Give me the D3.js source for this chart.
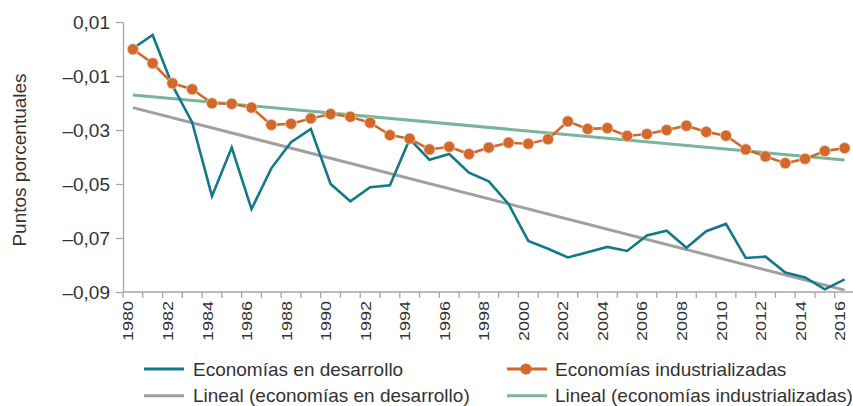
<!DOCTYPE html>
<meta charset="utf-8">
<head>
<script src="https://cdnjs.cloudflare.com/ajax/libs/d3/7.8.5/d3.min.js"></script>
<style>
	body { margin: 0; background: #fff; }
	svg { font-family: "Liberation Sans", Arial, sans-serif; }
	.axis path, .axis line { stroke: #a6a6a6; stroke-width: 1.3px; fill: none; }
	.axis text { fill: #333; }
</style>
</head>
<body>
<div id="chart"></div>
<script>
	var years = d3.range(1980, 2017);

	var developing = [0.0002, 0.0052, -0.0135, -0.0272, -0.0545, -0.0365, -0.0593, -0.0442, -0.0345, -0.0296,
		-0.0500, -0.0564, -0.0512, -0.0505, -0.0334, -0.0410, -0.0389, -0.0458, -0.0490, -0.0574,
		-0.0711, -0.0740, -0.0772, -0.0753, -0.0733, -0.0748, -0.0691, -0.0673, -0.0736, -0.0675,
		-0.0648, -0.0774, -0.0769, -0.0828, -0.0846, -0.0890, -0.0853];

	var industrial = [-0.0001, -0.0053, -0.0127, -0.0149, -0.0201, -0.0203, -0.0217, -0.0281, -0.0277, -0.0257,
		-0.0241, -0.0251, -0.0273, -0.0319, -0.0332, -0.0372, -0.0362, -0.0389, -0.0365, -0.0347,
		-0.0351, -0.0334, -0.0268, -0.0296, -0.0293, -0.0322, -0.0315, -0.0300, -0.0284, -0.0307,
		-0.0321, -0.0372, -0.0398, -0.0423, -0.0407, -0.0378, -0.0367];

	// trend lines (Excel "Lineal"), read at 1980 and 2016
	var trendYears = [1980, 2016];
	var trendDeveloping = [-0.0217, -0.0893];
	var trendIndustrial = [-0.0170, -0.0411];

	var yTicks = [0.01, -0.01, -0.03, -0.05, -0.07, -0.09];
	var labelYears = years.filter(function(d) { return d % 2 === 0; });

	var legendItems = [
		{ name: "Economías en desarrollo", color: "#12798a", marker: false, col: 0, row: 0 },
		{ name: "Economías industrializadas", color: "#d2692c", marker: true, col: 1, row: 0 },
		{ name: "Lineal (economías en desarrollo)", color: "#a0a0a0", marker: false, col: 0, row: 1 },
		{ name: "Lineal (economías industrializadas)", color: "#79b49c", marker: false, col: 1, row: 1 }
	];

	var W = 853, H = 406;
	var plotLeft = 123, plotTop = 22, plotH = 270;

	var x = d3.scaleBand()
		.domain(years)
		.range([plotLeft, plotLeft + 37 * 19.77])
		.paddingInner(0).paddingOuter(0);

	function cx(yr) { return x(yr) + x.bandwidth() / 2; }

	var y = d3.scaleLinear()
		.domain([-0.09, 0.01])
		.range([plotTop + plotH, plotTop]);

	var locale = d3.formatLocale({ decimal: ",", thousands: ".", grouping: [3], currency: ["", ""], minus: "\u2013" });
	var fmt = locale.format(".2f");

	var svg = d3.select("#chart").append("svg")
		.attr("width", W)
		.attr("height", H);

	// y axis
	var yaxis = svg.append("g")
		.attr("class", "y axis")
		.attr("transform", "translate(" + plotLeft + ",0)")
		.call(d3.axisLeft(y).tickValues(yTicks).tickFormat(fmt).tickSizeInner(7).tickSizeOuter(0).tickPadding(6));

	yaxis.selectAll("text")
		.style("font-size", "19px");

	// x axis: ticks on band edges, labels every other year
	var xaxis = svg.append("g")
		.attr("class", "x axis")
		.attr("transform", "translate(0," + (plotTop + plotH) + ")");

	xaxis.append("line")
		.attr("x1", plotLeft).attr("x2", x.range()[1])
		.attr("y1", 0).attr("y2", 0);

	xaxis.selectAll(".tk")
		.data(years.concat([2017]))
		.enter().append("line")
		.attr("class", "tk")
		.attr("x1", function(d) { return d === 2017 ? x.range()[1] : x(d); })
		.attr("x2", function(d) { return d === 2017 ? x.range()[1] : x(d); })
		.attr("y1", 0).attr("y2", 6);

	xaxis.selectAll(".lbl")
		.data(labelYears)
		.enter().append("text")
		.attr("class", "lbl")
		.attr("transform", function(d) { return "translate(" + (cx(d) - 4.5) + ",9) rotate(-90) scale(1,0.8)"; })
		.attr("dy", "0.35em")
		.style("text-anchor", "end")
		.style("font-size", "18px")
		.text(function(d) { return d; });

	// y title
	svg.append("text")
		.attr("transform", "translate(26,160) rotate(-90)")
		.style("text-anchor", "middle")
		.style("font-size", "19px")
		.style("fill", "#333")
		.text("Puntos porcentuales");

	var line = d3.line()
		.x(function(d) { return cx(d[0]); })
		.y(function(d) { return y(d[1]); });

	// trend lines
	svg.append("path")
		.datum(d3.zip(trendYears, trendDeveloping))
		.attr("d", line)
		.attr("fill", "none")
		.attr("stroke", "#a0a0a0")
		.attr("stroke-width", 3);

	svg.append("path")
		.datum(d3.zip(trendYears, trendIndustrial))
		.attr("d", line)
		.attr("fill", "none")
		.attr("stroke", "#79b49c")
		.attr("stroke-width", 3);

	// developing
	svg.append("path")
		.datum(d3.zip(years, developing))
		.attr("d", line)
		.attr("fill", "none")
		.attr("stroke", "#12798a")
		.attr("stroke-width", 2.6)
		.attr("stroke-linejoin", "miter");

	// industrialized
	svg.append("path")
		.datum(d3.zip(years, industrial))
		.attr("d", line)
		.attr("fill", "none")
		.attr("stroke", "#d2692c")
		.attr("stroke-width", 2.6);

	svg.selectAll(".dot")
		.data(d3.zip(years, industrial))
		.enter().append("circle")
		.attr("class", "dot")
		.attr("cx", function(d) { return cx(d[0]); })
		.attr("cy", function(d) { return y(d[1]); })
		.attr("r", 5.6)
		.attr("fill", "#d2692c")
		.attr("stroke", "#f3d3bf")
		.attr("stroke-width", 0.8);

	// legend
	var legend = svg.append("g")
		.selectAll("g")
		.data(legendItems)
		.enter().append("g")
		.attr("transform", function(d) { return "translate(" + (d.col ? 507 : 144) + "," + (369 + d.row * 26.7) + ")"; });

	legend.append("line")
		.attr("x1", 0).attr("x2", 40)
		.attr("stroke", function(d) { return d.color; })
		.attr("stroke-width", 3);

	legend.filter(function(d) { return d.marker; })
		.append("circle")
		.attr("cx", 19).attr("r", 5.6)
		.attr("fill", function(d) { return d.color; });

	legend.append("text")
		.attr("x", function(d) { return d.col ? 48 : 49; })
		.attr("dy", "0.35em")
		.style("font-size", "19px")
		.style("fill", "#333")
		.text(function(d) { return d.name; });
</script>
</body>
